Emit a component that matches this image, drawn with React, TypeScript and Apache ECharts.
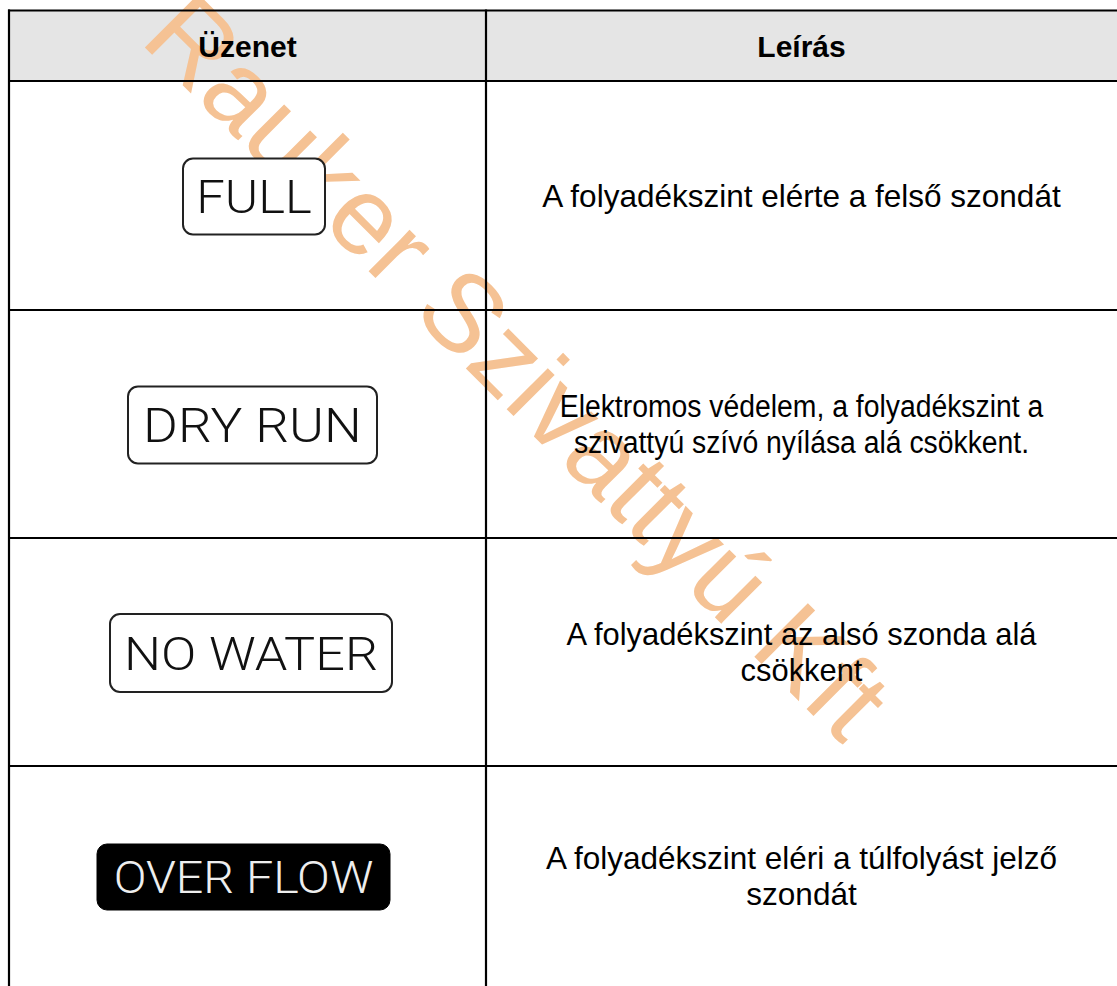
import React, { useEffect, useRef } from "react";
import * as echarts from "echarts";

// ---- data ----
const HEADERS = ["Üzenet", "Leírás"];
const MESSAGES = ["FULL", "DRY RUN", "NO WATER", "OVER FLOW"];
const INVERTED = [false, false, false, true];
const DESCRIPTIONS = [
  "A folyadékszint elérte a felső szondát",
  "Elektromos védelem, a folyadékszint a\nszivattyú szívó nyílása alá csökkent.",
  "A folyadékszint az alsó szonda alá\ncsökkent",
  "A folyadékszint eléri a túlfolyást jelző\nszondát",
];
const WATERMARK = "Rauker Szivattyú Kft";

// ---- layout ----
const W = 1117;
const H = 986;
const LEFT = 9;
const TOP = 10.5;
const COL = 486;
const HEADER_BOTTOM = 81;
const ROW_LINES = [310, 538, 766];
const ROW_BOUNDS = [HEADER_BOTTOM, 310, 538, 766, H];
const BADGE_CX = [254, 252.5, 251, 243.5];
const BADGE_W = [142, 249, 282, 293];
const BADGE_H = [76, 77, 78, 66];
const BADGE_FS = [47, 47.5, 47, 44];
const BADGE_SCALEX = [1.08, 1.12, 1.11, 1.1];
const DESC_SCALEX = [1, 0.9, 0.98, 1];

export default function App() {
  const ref = useRef<HTMLDivElement>(null);
  useEffect(() => {
    if (!ref.current) return;
    const chart = echarts.init(ref.current, null, { renderer: "svg" });
    const elements: any[] = [];
    // header background
    elements.push({
      type: "rect",
      shape: { x: LEFT, y: TOP, width: W - LEFT, height: HEADER_BOTTOM - TOP },
      style: { fill: "#e5e5e5" },
      z: 0,
    });
    // watermark
    elements.push({
      type: "text",
      x: 518,
      y: 366,
      rotation: -Math.PI / 4,
      z: 1,
      style: {
        text: WATERMARK,
        fontSize: 110,
        fontFamily: "Liberation Sans, Arial, sans-serif",
        fill: "#f5c294",
        align: "center",
        verticalAlign: "middle",
        textAlign: "center",
        textVerticalAlign: "middle",
      },
    });
    // grid lines
    const lineStyle = { stroke: "#000", lineWidth: 2.2 };
    const hLines = [TOP, HEADER_BOTTOM, ...ROW_LINES];
    hLines.forEach((y) =>
      elements.push({
        type: "line",
        z: 3,
        shape: { x1: LEFT - 1, y1: y, x2: W, y2: y },
        style: lineStyle,
      })
    );
    [LEFT, COL].forEach((x) =>
      elements.push({
        type: "line",
        z: 3,
        shape: { x1: x, y1: TOP - 1, x2: x, y2: H },
        style: lineStyle,
      })
    );
    // headers
    const colCenters = [(LEFT + COL) / 2, (COL + W) / 2];
    HEADERS.forEach((h, i) =>
      elements.push({
        type: "text",
        z: 4,
        x: colCenters[i],
        y: (TOP + HEADER_BOTTOM) / 2 + 1,
        style: {
          text: h,
          fontSize: 30,
          fontWeight: "bold",
          fontFamily: "Liberation Sans, Arial, sans-serif",
          fill: "#000",
          align: "center",
          verticalAlign: "middle",
          textAlign: "center",
          textVerticalAlign: "middle",
        },
      })
    );
    // rows
    MESSAGES.forEach((m, i) => {
      const cy = (ROW_BOUNDS[i] + ROW_BOUNDS[i + 1]) / 2;
      const inv = INVERTED[i];
      const bw = BADGE_W[i];
      const bh = BADGE_H[i];
      elements.push({
        type: "rect",
        z: 4,
        shape: { x: BADGE_CX[i] - bw / 2, y: cy - bh / 2 + 1, width: bw, height: bh, r: 10 },
        style: inv
          ? { fill: "#000", stroke: "#000", lineWidth: 1 }
          : { fill: "#fff", stroke: "#222", lineWidth: 2 },
      });
      elements.push({
        type: "text",
        z: 5,
        x: BADGE_CX[i],
        y: cy + 2,
        scaleX: BADGE_SCALEX[i],
        style: {
          text: m,
          fontSize: BADGE_FS[i],
          fontWeight: 300,
          fontFamily: "Roboto, Liberation Sans, sans-serif",
          fill: inv ? "#eeeeee" : "#111",
          align: "center",
          verticalAlign: "middle",
          textAlign: "center",
          textVerticalAlign: "middle",
        },
      });
      elements.push({
        type: "text",
        z: 4,
        x: colCenters[1],
        y: cy,
        scaleX: DESC_SCALEX[i],
        style: {
          text: DESCRIPTIONS[i],
          fontSize: 31.5,
          lineHeight: 36,
          fontFamily: "Liberation Sans, Arial, sans-serif",
          fill: "#000",
          align: "center",
          verticalAlign: "middle",
          textAlign: "center",
          textVerticalAlign: "middle",
        },
      });
    });
    chart.setOption({ animation: false, graphic: { elements } });
    return () => chart.dispose();
  }, []);
  return (
    <div
      ref={ref}
      style={{ position: "fixed", left: 0, top: 0, width: W, height: H, background: "#fff" }}
    />
  );
}
